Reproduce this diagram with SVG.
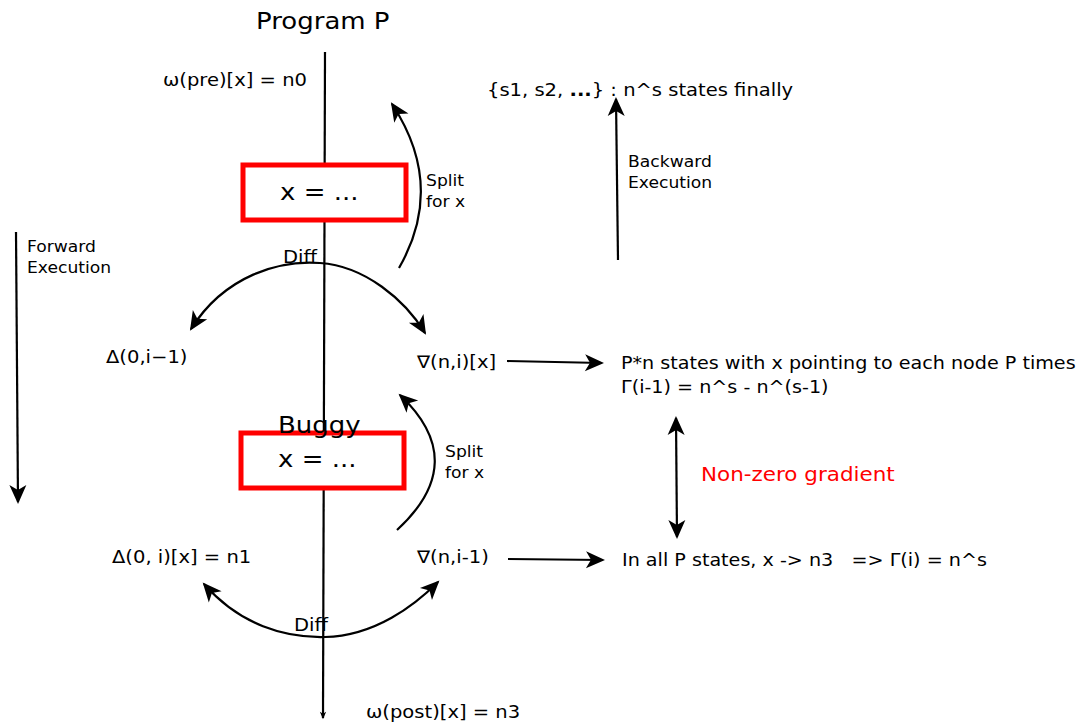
<svg xmlns="http://www.w3.org/2000/svg" width="1081" height="725" viewBox="0 0 1081 725">
<style>
text{font-family:"DejaVu Sans",sans-serif;fill:#000}
.t{font-size:17.3px}
.s{font-size:15.2px}
.big{font-size:23px}
.box{fill:#fff;stroke:#f00;stroke-width:5}
.ln{fill:none;stroke:#000;stroke-width:2.2}
</style>
<defs>
<marker id="ah" markerUnits="userSpaceOnUse" markerWidth="24" markerHeight="24" viewBox="-20 -10 24 20" refX="0" refY="0" orient="auto-start-reverse">
<path d="M2,0 L-17,-8.5 L-12,0 L-17,8.5 Z" fill="#000"/>
</marker>
<marker id="ahs" markerUnits="userSpaceOnUse" markerWidth="10" markerHeight="10" viewBox="-6 -4 8 8" refX="0" refY="0" orient="auto">
<path d="M1,0 L-5,-2.5 L-3.5,0 L-5,2.5 Z" fill="#000"/>
</marker>
</defs>
<g id="title"><text class="big" transform="matrix(1.13 0 0 1 256 29)">Program P</text></g>
<g id="connectors">
<path class="ln" d="M325,52 L323,718" marker-end="url(#ahs)"/>
<path class="ln" d="M16,232 L18,502" marker-end="url(#ah)"/>
<path class="ln" d="M618,260 L616,99" marker-end="url(#ah)"/>
<path class="ln" d="M399,268 Q446,186 392,104" marker-end="url(#ah)"/>
<path class="ln" d="M191,329 C225,275 280,260 320,263 C365,266 405,300 425,333" marker-start="url(#ah)" marker-end="url(#ah)"/>
<path class="ln" d="M397,530 Q471,462 400,395" marker-end="url(#ah)"/>
<path class="ln" d="M204,584 C240,625 285,638 325,637 C375,636 415,605 438,582" marker-start="url(#ah)" marker-end="url(#ah)"/>
<path class="ln" d="M507,361 L602,363" marker-end="url(#ah)"/>
<path class="ln" d="M508,559 L603,560" marker-end="url(#ah)"/>
<path class="ln" d="M676,418 L677,537" marker-start="url(#ah)" marker-end="url(#ah)"/>
</g>
<g id="box1"><rect class="box" x="243" y="165" width="163" height="55"/><text class="big" transform="matrix(1.13 0 0 1 280 200)">x = ...</text></g>
<g id="box2"><rect class="box" x="241" y="433" width="163" height="55"/><text class="big" transform="matrix(1.13 0 0 1 278 433)">Buggy</text><text class="big" transform="matrix(1.13 0 0 1 278 467)">x = ...</text></g>
<g id="pre"><text class="t" transform="matrix(1.13 0 0 1 163 86)">ω(pre)[x] = n0</text></g>
<g id="final"><text class="t" transform="matrix(1.13 0 0 1 487 96)">{s1, s2, <tspan font-weight="bold">...</tspan>} : n^s states finally</text></g>
<g id="backward"><text class="s" transform="matrix(1.13 0 0 1 628 167)">Backward</text><text class="s" transform="matrix(1.13 0 0 1 628 188)">Execution</text></g>
<g id="forward"><text class="s" transform="matrix(1.13 0 0 1 27 252)">Forward</text><text class="s" transform="matrix(1.13 0 0 1 27 273)">Execution</text></g>
<g id="split1"><text class="s" transform="matrix(1.13 0 0 1 426 186)">Split</text><text class="s" transform="matrix(1.13 0 0 1 426 207)">for x</text></g>
<g id="split2"><text class="s" transform="matrix(1.13 0 0 1 445 457)">Split</text><text class="s" transform="matrix(1.13 0 0 1 445 478)">for x</text></g>
<g id="diff1"><text class="t" transform="matrix(1.13 0 0 1 283 263)">Diff</text></g>
<g id="diff2"><text class="t" transform="matrix(1.13 0 0 1 294 631)">Diff</text></g>
<g id="delta1"><text class="t" transform="matrix(1.13 0 0 1 106 363)">Δ(0,i−1)</text></g>
<g id="nabla1"><text class="t" transform="matrix(1.13 0 0 1 417 368)">∇(n,i)[x]</text></g>
<g id="states1"><text class="t" transform="matrix(1.107 0 0 1 621 369)">P*n states with x pointing to each node P times</text><text class="t" transform="matrix(1.107 0 0 1 621 393)">Γ(i-1) = n^s - n^(s-1)</text></g>
<g id="gradient"><text font-size="19" style="fill:#f00" transform="matrix(1.13 0 0 1 701 481)">Non-zero gradient</text></g>
<g id="delta2"><text class="t" transform="matrix(1.13 0 0 1 112 563)">Δ(0, i)[x] = n1</text></g>
<g id="nabla2"><text class="t" transform="matrix(1.13 0 0 1 417 563)">∇(n,i-1)</text></g>
<g id="states2"><text class="t" transform="matrix(1.107 0 0 1 622 566)" xml:space="preserve">In all P states, x -&gt; n3   =&gt; Γ(i) = n^s</text></g>
<g id="post"><text class="t" transform="matrix(1.13 0 0 1 366 718)">ω(post)[x] = n3</text></g>
</svg>
